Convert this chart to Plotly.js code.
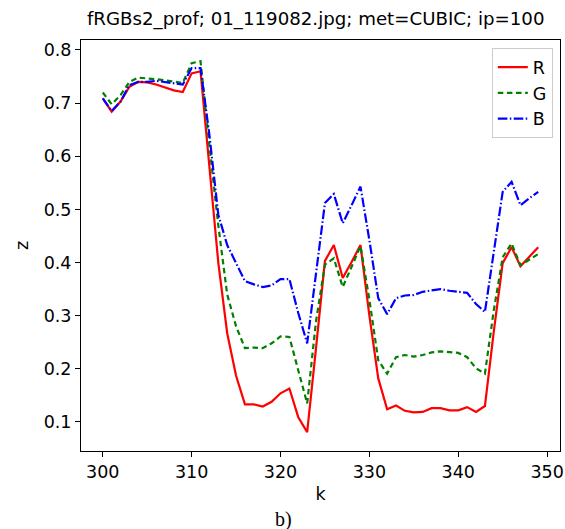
<!DOCTYPE html>
<html>
<head>
<meta charset="utf-8">
<script src="https://cdn.plot.ly/plotly-3.0.1.min.js"></script>
<style>html,body{margin:0;padding:0;background:#fff;}#chart{width:565px;height:529px;}</style>
</head>
<body>
<div id="chart"></div>
<script>
const k = [300,301,302,303,304,305,306,307,308,309,310,311,312,313,314,315,316,317,318,319,320,321,322,323,324,325,326,327,328,329,330,331,332,333,334,335,336,337,338,339,340,341,342,343,344,345,346,347,348,349];
const R = [0.709,0.684,0.703,0.731,0.740,0.739,0.735,0.730,0.724,0.721,0.756,0.760,0.58,0.40,0.267,0.187,0.133,0.133,0.129,0.138,0.154,0.163,0.109,0.081,0.240,0.403,0.433,0.371,0.401,0.433,0.300,0.182,0.124,0.131,0.121,0.118,0.119,0.126,0.126,0.122,0.122,0.128,0.119,0.130,0.270,0.399,0.429,0.393,0.411,0.429];
const G = [0.720,0.698,0.715,0.740,0.748,0.747,0.745,0.743,0.741,0.738,0.775,0.779,0.62,0.47,0.34,0.28,0.239,0.240,0.239,0.248,0.261,0.260,0.197,0.135,0.290,0.396,0.408,0.354,0.392,0.431,0.330,0.216,0.191,0.222,0.226,0.223,0.226,0.231,0.233,0.232,0.230,0.222,0.201,0.191,0.310,0.410,0.436,0.395,0.405,0.416];
const B = [0.709,0.685,0.703,0.734,0.740,0.740,0.742,0.740,0.737,0.735,0.766,0.766,0.64,0.49,0.433,0.400,0.365,0.359,0.354,0.357,0.369,0.369,0.305,0.248,0.375,0.512,0.529,0.474,0.508,0.543,0.442,0.333,0.303,0.333,0.338,0.339,0.345,0.348,0.350,0.347,0.345,0.343,0.322,0.307,0.420,0.533,0.552,0.508,0.521,0.533];
const xTicks = [300,310,320,330,340,350];
const yTicks = [0.1,0.2,0.3,0.4,0.5,0.6,0.7,0.8];
const titleText = "fRGBs2_prof; 01_119082.jpg; met=CUBIC; ip=100";

const font = {family: "DejaVu Sans", size: 17.5, color: "#000"};
const traces = [
  {x: k, y: R, name: "R", mode: "lines", line: {color: "#ff0000", width: 2.2}},
  {x: k, y: G, name: "G", mode: "lines", line: {color: "#008000", width: 2.2, dash: "5.5px,3.6px"}},
  {x: k, y: B, name: "B", mode: "lines", line: {color: "#0000ff", width: 2.2, dash: "9.6px,2.4px,1.5px,2.4px"}}
];
const layout = {
  width: 565, height: 529,
  margin: {l: 81, r: 5, t: 40, b: 78},
  paper_bgcolor: "#fff", plot_bgcolor: "#fff",
  font: font,
  title: {text: titleText, font: {family: "DejaVu Sans", size: 18.2, color: "#000"}, xref: "paper", x: 0.49, xanchor: "center", yref: "container", y: 1 - 19/529, yanchor: "middle"},
  xaxis: {range: [297.55, 351.45], tickvals: xTicks, ticktext: xTicks.map(String), ticks: "outside", ticklen: 5, tickwidth: 1, tickcolor: "#000",
          showline: true, mirror: true, linecolor: "#000", linewidth: 1, showgrid: false, zeroline: false,
          tickfont: font, title: {text: "k", font: font, standoff: 6}},
  yaxis: {range: [0.0454, 0.8188], tickvals: yTicks, ticktext: yTicks.map(v => v.toFixed(1)), ticks: "outside", ticklen: 5, tickwidth: 1, tickcolor: "#000",
          showline: true, mirror: true, linecolor: "#000", linewidth: 1, showgrid: false, zeroline: false,
          tickfont: font, title: {text: "z", font: font, standoff: 10}},
  legend: {x: 0.985, y: 0.98, xanchor: "right", yanchor: "top", bordercolor: "#cccccc", borderwidth: 1, bgcolor: "rgba(255,255,255,0.8)",
           font: font, traceorder: "normal", itemwidth: 30},
  showlegend: true,
  annotations: [
    {text: "b)", xref: "paper", yref: "paper", x: (283-81)/479, y: -(519-451)/411, xanchor: "center", yanchor: "middle", showarrow: false,
     font: {family: "Liberation Serif", size: 20, color: "#000"}}
  ]
};
Plotly.newPlot("chart", traces, layout, {displayModeBar: false, staticPlot: true});
</script>
</body>
</html>
